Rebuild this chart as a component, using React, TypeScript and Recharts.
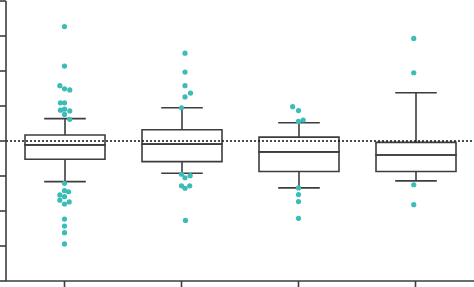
import {
  ComposedChart,
  Bar,
  Scatter,
  XAxis,
  YAxis,
  ReferenceLine
} from "recharts";

// groups along the x axis
const groups = ["A", "B", "C", "D"];

// five-number summaries (whisker low, q1, median, q3, whisker high)
const whiskerLow = [2.84, 3.08, 2.66, 2.86];
const q1 = [3.48, 3.41, 3.13, 3.13];
const median = [3.89, 3.91, 3.69, 3.6];
const q3 = [4.17, 4.32, 4.11, 3.96];
const whiskerHigh = [4.64, 4.95, 4.52, 5.38];

// outliers: [horizontal jitter (in category units), value]
const outliersA: [number, number][] = [
  [0, 7.27], [0, 6.14], [-0.04, 5.58], [0, 5.49], [0.045, 5.46],
  [-0.035, 5.09], [0, 5.09], [-0.035, 4.88], [0, 4.91], [0.045, 4.86],
  [0, 4.76], [0.045, 4.62],
  [0, 2.79], [0, 2.58], [0.035, 2.55], [-0.04, 2.46], [0, 2.41],
  [-0.04, 2.31], [0, 2.2], [0.04, 2.26], [0, 1.77], [0, 1.57],
  [0, 1.38], [0, 1.06]
];
const outliersB: [number, number][] = [
  [0.03, 6.51], [0.03, 5.97], [0.03, 5.58], [0.077, 5.37], [0.03, 5.26],
  [0, 4.95],
  [0, 3.05], [0.074, 3.01], [0.03, 2.95], [0, 2.72], [0.07, 2.72],
  [0.03, 2.65], [0.034, 1.73]
];
const outliersC: [number, number][] = [
  [-0.05, 4.98], [0, 4.87], [0.04, 4.6], [0, 4.56],
  [0, 2.66], [0, 2.47], [0, 2.27], [0, 1.79]
];
const outliersD: [number, number][] = [
  [-0.015, 6.93], [-0.015, 5.95], [-0.015, 2.75], [-0.015, 2.18]
];

const yTicks = [0, 1, 2, 3, 4, 5, 6, 7, 8];
const refValue = 4;

const boxRows = groups.map((name, i) => ({
  name,
  base: whiskerLow[i],
  lowW: q1[i] - whiskerLow[i],
  lowBox: median[i] - q1[i],
  highBox: q3[i] - median[i],
  highW: whiskerHigh[i] - q3[i]
}));

const points = [outliersA, outliersB, outliersC, outliersD].flatMap((list, i) =>
  list.map(([dx, v]) => ({ x: i + 1 + dx, y: v }))
);

const LINE = "#3d3d3d";
const DOT = "#3cbcb6";

function LowerWhisker(props: any) {
  const { x, y, width, height } = props;
  const cx = x + width / 2;
  const cap = width * 0.26;
  return (
    <g stroke={LINE} strokeWidth={1.6}>
      <line x1={cx} y1={y} x2={cx} y2={y + height} />
      <line x1={cx - cap} y1={y + height} x2={cx + cap} y2={y + height} />
    </g>
  );
}

function UpperWhisker(props: any) {
  const { x, y, width, height } = props;
  const cx = x + width / 2;
  const cap = width * 0.26;
  return (
    <g stroke={LINE} strokeWidth={1.6}>
      <line x1={cx} y1={y} x2={cx} y2={y + height} />
      <line x1={cx - cap} y1={y} x2={cx + cap} y2={y} />
    </g>
  );
}

export default function App() {
  return (
    <div style={{ position: "absolute", left: 0, top: 0 }}>
      <ComposedChart
        width={474}
        height={287}
        data={boxRows}
        margin={{ top: 1, right: 0, bottom: 0, left: 0 }}
        barSize={80}
      >
        <XAxis
          xAxisId="cat"
          dataKey="name"
          height={6}
          tickSize={6}
          tickFormatter={() => ""}
          stroke={LINE}
          strokeWidth={1.6}
        />
        <XAxis
          xAxisId="num"
          type="number"
          dataKey="x"
          domain={[0.5, 4.5]}
          allowDataOverflow
          hide
        />
        <YAxis
          type="number"
          domain={[0, 8]}
          ticks={yTicks}
          width={6}
          tickSize={6}
          tickFormatter={() => ""}
          stroke={LINE}
          strokeWidth={1.6}
        />
        <Bar xAxisId="cat" dataKey="base" stackId="box" fill="transparent" isAnimationActive={false} />
        <Bar xAxisId="cat" dataKey="lowW" stackId="box" shape={<LowerWhisker />} isAnimationActive={false} />
        <Bar xAxisId="cat" dataKey="lowBox" stackId="box" fill="none" stroke={LINE} strokeWidth={1.6} isAnimationActive={false} />
        <Bar xAxisId="cat" dataKey="highBox" stackId="box" fill="none" stroke={LINE} strokeWidth={1.6} isAnimationActive={false} />
        <Bar xAxisId="cat" dataKey="highW" stackId="box" shape={<UpperWhisker />} isAnimationActive={false} />
        <ReferenceLine
          xAxisId="cat"
          y={refValue}
          stroke="#111"
          strokeWidth={1.4}
          strokeDasharray="2 2"
        />
        <Scatter
          xAxisId="num"
          data={points}
          dataKey="y"
          fill={DOT}
          shape={(p: any) => <circle cx={p.cx} cy={p.cy} r={2.6} fill={DOT} />}
          isAnimationActive={false}
        />
      </ComposedChart>
    </div>
  );
}
